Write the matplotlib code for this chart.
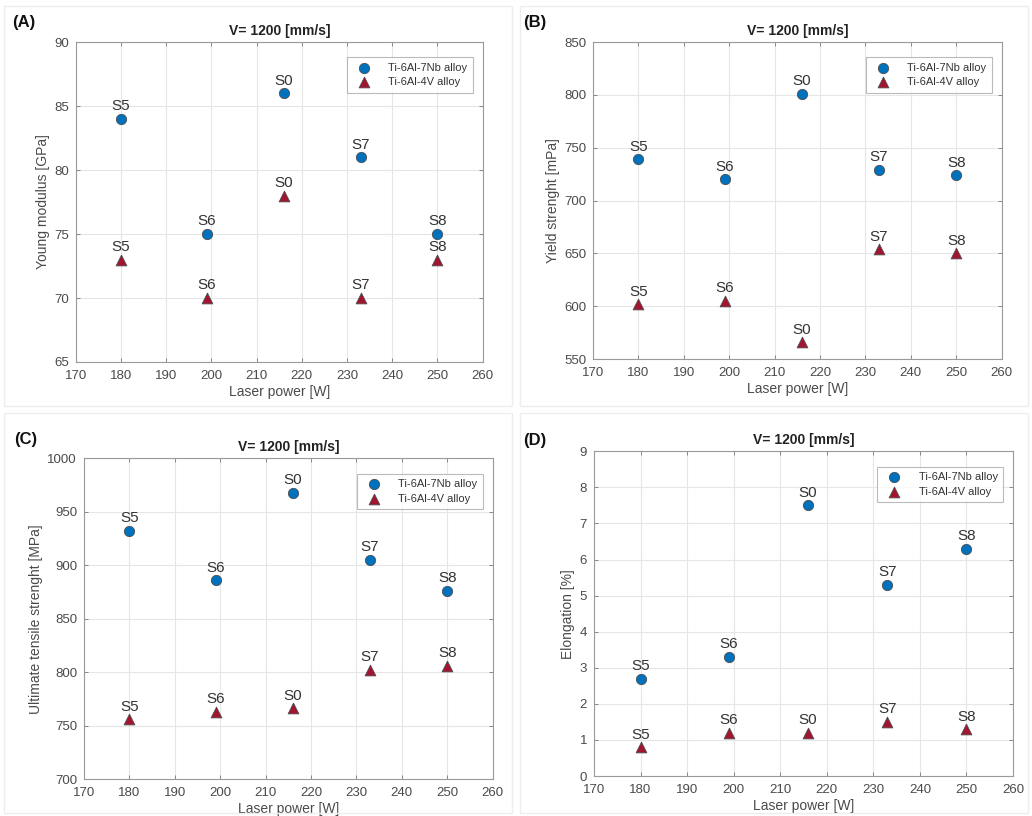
import matplotlib
matplotlib.use('Agg')
from matplotlib import pyplot as plt
from matplotlib.patches import Rectangle
import numpy as np

plt.rcParams['font.family'] = ['Liberation Sans', 'DejaVu Sans']

laser_power = [180, 199, 216, 233, 250]
sample_names = ['S5', 'S6', 'S0', 'S7', 'S8']

young_nb = [84, 75, 86, 81, 75]
young_v = [73, 70, 78, 70, 73]
yield_nb = [739, 720, 801, 729, 724]
yield_v = [602, 605, 566, 654, 650]
uts_nb = [932, 886, 968, 905, 876]
uts_v = [756, 763, 766, 802, 806]
elong_nb = [2.7, 3.3, 7.5, 5.3, 6.3]
elong_v = [0.8, 1.2, 1.2, 1.5, 1.3]

series_names = ['Ti-6Al-7Nb alloy', 'Ti-6Al-4V alloy']
title = 'V= 1200 [mm/s]'
x_label = 'Laser power [W]'

panels = [
    ('(A)', 'Young modulus [GPa]', young_nb, young_v, (65, 90, 5),
     [0.0736, 0.5564, 0.394, 0.392], (0.012, 0.972)),
    ('(B)', 'Yield strenght [mPa]', yield_nb, yield_v, (550, 850, 50),
     [0.5746, 0.560, 0.396, 0.3885], (0.507, 0.972)),
    ('(C)', 'Ultimate tensile strenght [MPa]', uts_nb, uts_v, (700, 1000, 50),
     [0.0814, 0.0453, 0.396, 0.393], (0.014, 0.461)),
    ('(D)', 'Elongation [%]', elong_nb, elong_v, (0, 9, 1),
     [0.5756, 0.049, 0.406, 0.398], (0.507, 0.460)),
]

blue = '#0072BD'
red = '#A2142F'
edge = '#4d4d4d'
txt_gray = '#4a4a4a'

fig = plt.figure(figsize=(10.32, 8.16), dpi=100)

# faint panel frames like the source figure
for (x0, y0) in [(0.004, 0.503), (0.504, 0.503), (0.004, 0.004), (0.504, 0.004)]:
    fig.patches.append(Rectangle((x0, y0), 0.492, 0.49, transform=fig.transFigure,
                                 fill=False, edgecolor='#eeeeee', linewidth=1))

for letter, ylab, nb, v, (ymin, ymax, ystep), pos, lpos in panels:
    ax = fig.add_axes(pos)
    ax.scatter(laser_power, nb, s=55, marker='o', color=blue, edgecolor=edge,
               linewidth=0.6, zorder=3, label=series_names[0])
    ax.scatter(laser_power, v, s=60, marker='^', color=red, edgecolor=edge,
               linewidth=0.6, zorder=3, label=series_names[1])
    for xi, yi, name in zip(laser_power, nb, sample_names):
        ax.annotate(name, (xi, yi), xytext=(0, 4), textcoords='offset points',
                    ha='center', va='bottom', fontsize=11, color='#333333')
    for xi, yi, name in zip(laser_power, v, sample_names):
        ax.annotate(name, (xi, yi), xytext=(0, 4), textcoords='offset points',
                    ha='center', va='bottom', fontsize=11, color='#333333')

    ax.set_xlim(170, 260)
    ax.set_ylim(ymin, ymax)
    ax.set_xticks(np.arange(170, 261, 10))
    ax.set_yticks(np.arange(ymin, ymax + ystep / 2, ystep))
    ax.grid(True, color='#e6e6e6', linewidth=0.8)
    ax.set_axisbelow(True)
    ax.tick_params(direction='in', length=3, width=0.6, colors='#777777',
                   labelcolor=txt_gray, labelsize=9.5, top=True, right=True)
    ax.tick_params(axis='x', pad=6)
    ax.tick_params(axis='y', pad=5)
    for sp in ax.spines.values():
        sp.set_color('#9a9a9a')
        sp.set_linewidth(0.8)
    ax.set_xlabel(x_label, fontsize=10, color=txt_gray, labelpad=2)
    ax.set_ylabel(ylab, fontsize=10, color=txt_gray, labelpad=3)
    ax.set_title(title, fontsize=10, fontweight='bold', color='#222222', pad=5)
    leg = ax.legend(loc='upper right', fontsize=8, frameon=True, fancybox=False,
                    edgecolor='#aaaaaa', borderpad=0.5, handletextpad=1.2,
                    labelspacing=0.4, bbox_to_anchor=(0.99, 0.97))
    leg.get_frame().set_linewidth(0.8)
    for t in leg.get_texts():
        t.set_color('#333333')
    fig.text(lpos[0], lpos[1], letter, fontsize=12, fontweight='bold',
             ha='left', va='center', color='#111111')

fig.savefig('out.png', dpi=100)
